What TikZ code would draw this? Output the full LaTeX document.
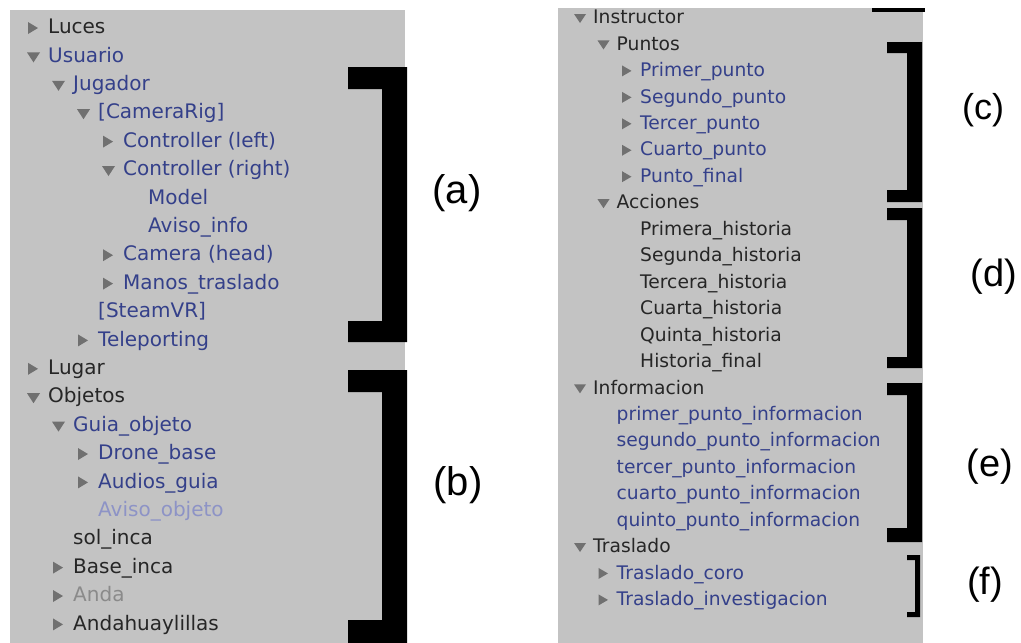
\documentclass[tikz,border=0pt]{standalone}
\usepackage{fontspec}
\setmainfont{DejaVu Sans}
\newfontfamily\lblfont{Liberation Sans}
\definecolor{panel}{HTML}{C3C3C3}
\definecolor{blk}{HTML}{262626}
\definecolor{blu}{HTML}{34408A}
\definecolor{ltb}{HTML}{8D93C6}
\definecolor{gry}{HTML}{8A8A8A}
\definecolor{tricol}{HTML}{707070}
\begin{document}
\begin{tikzpicture}[x=1pt,y=-1pt,
  ltxt/.style={anchor=mid west,inner sep=0pt,font=\fontsize{20}{24}\selectfont},
  rtxt/.style={anchor=mid west,inner sep=0pt,font=\fontsize{18.7}{22}\selectfont},
  tri/.style={fill=tricol},
  brk/.style={fill=black},
  lbl/.style={inner sep=0pt,font=\lblfont\fontsize{40}{46}\selectfont},
  rlbl/.style={inner sep=0pt,font=\lblfont\fontsize{38}{44}\selectfont}]
\useasboundingbox (0,0) rectangle (1021,643);
\fill[white] (0,0) rectangle (1021,643);
\fill[panel] (10,10) rectangle (405,643);
\fill[panel] (558,8) rectangle (923,643);
% left tree
\foreach \i/\lv/\mk/\col/\txt in {
 0/0/1/blk/Luces, 1/0/2/blu/Usuario, 2/1/2/blu/Jugador, 3/2/2/blu/[CameraRig],
 4/3/1/blu/Controller (left), 5/3/2/blu/Controller (right), 6/4/0/blu/Model,
 7/4/0/blu/Aviso\_info, 8/3/1/blu/Camera (head), 9/3/1/blu/Manos\_traslado,
 10/2/0/blu/[SteamVR], 11/2/1/blu/Teleporting, 12/0/1/blk/Lugar, 13/0/2/blk/Objetos,
 14/1/2/blu/Guia\_objeto, 15/2/1/blu/Drone\_base, 16/2/1/blu/Audios\_guia,
 17/2/0/ltb/Aviso\_objeto, 18/1/0/blk/sol\_inca, 19/1/1/blk/Base\_inca,
 20/1/1/gry/Anda, 21/1/1/blk/Andahuaylillas}
{
  \node[ltxt,text=\col] (L\i) at ({48+25*\lv},{31+28.4*\i}) {\txt};
  \ifnum\mk=1 \fill[tri] (L\i.mid west) ++(-20,-9) -- ++(0,12) -- ++(10,-6) -- cycle; \fi
  \ifnum\mk=2 \fill[tri] (L\i.mid west) ++(-21,-7) -- ++(13,0) -- ++(-6.5,10) -- cycle; \fi
}
% right tree
\foreach \i/\lv/\mk/\col/\txt in {
 0/0/2/blk/Instructor, 1/1/2/blk/Puntos, 2/2/1/blu/Primer\_punto,
 3/2/1/blu/Segundo\_punto, 4/2/1/blu/Tercer\_punto, 5/2/1/blu/Cuarto\_punto,
 6/2/1/blu/Punto\_final, 7/1/2/blk/Acciones, 8/2/0/blk/Primera\_historia,
 9/2/0/blk/Segunda\_historia, 10/2/0/blk/Tercera\_historia, 11/2/0/blk/Cuarta\_historia,
 12/2/0/blk/Quinta\_historia, 13/2/0/blk/Historia\_final, 14/0/2/blk/Informacion,
 15/1/0/blu/primer\_punto\_informacion, 16/1/0/blu/segundo\_punto\_informacion,
 17/1/0/blu/tercer\_punto\_informacion, 18/1/0/blu/cuarto\_punto\_informacion,
 19/1/0/blu/quinto\_punto\_informacion, 20/0/2/blk/Traslado,
 21/1/1/blu/Traslado\_coro, 22/1/1/blu/Traslado\_investigacion}
{
  \node[rtxt,text=\col] (R\i) at ({593+23.5*\lv},{21+26.45*\i}) {\txt};
  \ifnum\mk=1 \fill[tri] (R\i.mid west) ++(-18,-8.5) -- ++(0,11) -- ++(9.5,-5.5) -- cycle; \fi
  \ifnum\mk=2 \fill[tri] (R\i.mid west) ++(-19,-7) -- ++(12,0) -- ++(-6,9) -- cycle; \fi
}
% left brackets
\fill[brk] (348,67) -- (407,67) -- (407,342) -- (348,342) -- (348,321) -- (382,321) -- (382,89) -- (348,89) -- cycle;
\fill[brk] (348,370) -- (407,370) -- (407,643) -- (348,643) -- (348,620) -- (382,620) -- (382,392) -- (348,392) -- cycle;
% right brackets
\fill[brk] (872,8) rectangle (925,12);
\fill[brk] (887,42) -- (922,42) -- (922,202) -- (887,202) -- (887,190) -- (907,190) -- (907,53) -- (887,53) -- cycle;
\fill[brk] (887,208) -- (922,208) -- (922,368) -- (887,368) -- (887,357) -- (907,357) -- (907,220) -- (887,220) -- cycle;
\fill[brk] (887,383) -- (922,383) -- (922,542) -- (887,542) -- (887,528) -- (907,528) -- (907,395) -- (887,395) -- cycle;
\fill[brk] (907,555) -- (920,555) -- (920,617) -- (907,617) -- (907,612) -- (915,612) -- (915,560) -- (907,560) -- cycle;
% labels
\node[lbl] (la) at (457,193) {(a)};
\node[lbl] (lb) at (458,485) {(b)};
\node[rlbl,font=\lblfont\fontsize{36}{42}\selectfont] (lc) at (983,110) {(c)};
\node[rlbl] (ld) at (994,277) {(d)};
\node[rlbl] (le) at (990,467) {(e)};
\node[rlbl] (lf) at (985,585) {(f)};
\end{tikzpicture}
\end{document}
